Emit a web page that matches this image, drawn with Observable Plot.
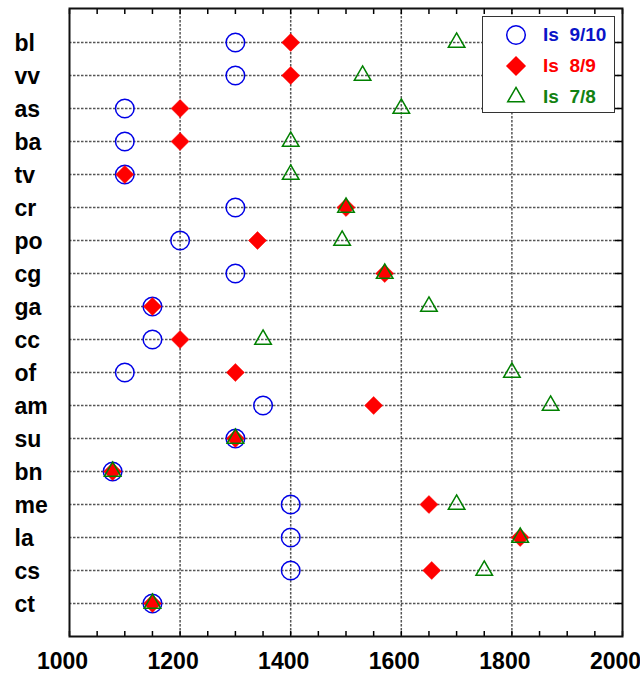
<!DOCTYPE html>
<html>
<head>
<meta charset="utf-8">
<script src="https://cdn.jsdelivr.net/npm/d3@7"></script>
<script src="https://cdn.jsdelivr.net/npm/@observablehq/plot@0.6"></script>
<style>
  html, body { margin: 0; padding: 0; background: #fff; }
  #wrap { position: relative; width: 640px; height: 673px; overflow: hidden; font-family: "Liberation Sans", Arial, sans-serif; }
  #legend { position: absolute; left: 482px; top: 16px; width: 131px; height: 95px; border: 1.5px solid #333; background: #fff; }
  .row { position: absolute; left: 0; height: 24px; }
  .row svg { position: absolute; left: 21px; top: 0; }
  .row span { position: absolute; left: 60px; white-space: pre; font-weight: bold; font-size: 19px; line-height: 24px; }
</style>
</head>
<body>
<div id="wrap"></div>
<script>
const categories = ["bl","vv","as","ba","tv","cr","po","cg","ga","cc","of","am","su","bn","me","la","cs","ct"];
const ls910 = [1300,1300,1100,1100,1100,1300,1200,1300,1150,1150,1100,1350,1300,1078,1400,1400,1400,1150];
const ls89  = [1400,1400,1200,1200,1100,1500,1340,1570,1150,1200,1300,1550,1300,1078,1650,1815,1655,1150];
const ls78  = [1700,1530,1600,1400,1400,1500,1493,1570,1650,1350,1800,1870,1300,1078,1700,1815,1750,1150];
const seriesNames = ["Is  9/10", "Is  8/9", "Is  7/8"];
const xTicks = [1000,1200,1400,1600,1800,2000];
const xMinorTicks = d3.range(1000, 2001, 50);

const BLUE = "#0000e6", RED = "#ff0000", GREEN = "#008000";

const rows = (vals) => categories.map((c, i) => ({cat: c, v: vals[i]}));
const gridStyle = {stroke: "#555", strokeOpacity: 1, strokeDasharray: "2.5,1.5", strokeWidth: 1.5};

const chart = Plot.plot({
  width: 640,
  height: 673,
  marginLeft: 69,
  marginRight: 18,
  marginTop: 8,
  marginBottom: 37,
  style: {fontFamily: "'Liberation Sans', Arial, sans-serif", fontSize: "23px", fontWeight: "bold", color: "#000", background: "#fff", overflow: "visible"},
  x: {domain: [1000, 2000], label: null},
  y: {type: "point", domain: categories, padding: 1, label: null},
  marks: [
    Plot.gridY(gridStyle),
    Plot.gridX({...gridStyle, ticks: [1200,1400,1600,1800]}),
    Plot.axisX({anchor: "top", ticks: xMinorTicks, tickSize: 5, dy: 5, tickFormat: () => "", strokeWidth: 1.5, label: null}),
    Plot.axisX({anchor: "bottom", ticks: xMinorTicks, tickSize: 5, dy: -5, tickFormat: () => "", strokeWidth: 1.5, label: null}),
    Plot.axisX({anchor: "bottom", ticks: xTicks, tickSize: 0, tickPadding: 16, dx: -7, tickFormat: d => String(d), fontSize: 23, fontWeight: "bold", label: null}),
    Plot.axisY({anchor: "right", tickSize: 8, dx: -8, tickFormat: () => "", strokeWidth: 1.5, label: null}),
    Plot.text(categories, {y: d => d, text: d => d, frameAnchor: "left", textAnchor: "start", dx: -55, dy: 1, fontSize: 23, fontWeight: "bold"}),
    Plot.frame({stroke: "#111", strokeWidth: 2}),
    Plot.dot(rows(ls910), {x: "v", y: "cat", r: 9.3, stroke: BLUE, strokeWidth: 1.5, fill: "none"}),
    Plot.dot(rows(ls89), {x: "v", y: "cat", r: 8.1, symbol: "diamond2", fill: RED, stroke: RED, strokeWidth: 0.5}),
    Plot.dot(rows(ls78), {x: "v", y: "cat", r: 7.9, symbol: "triangle2", fill: "none", stroke: GREEN, strokeWidth: 1.5})
  ]
});

const wrap = document.getElementById("wrap");
wrap.appendChild(chart);

// Legend
const legend = document.createElement("div");
legend.id = "legend";
const legendSymbols = [
  {sym: d3.symbolCircle, r: 9.3, fill: "none", stroke: BLUE, color: "#0a14c8"},
  {sym: d3.symbolDiamond2, r: 8.1, fill: RED, stroke: RED, color: RED},
  {sym: d3.symbolTriangle2, r: 7.9, fill: "none", stroke: GREEN, color: "#128212"}
];
const rowTops = [6, 37, 68];
legendSymbols.forEach((s, i) => {
  const row = document.createElement("div");
  row.className = "row";
  row.style.top = rowTops[i] + "px";
  const path = d3.symbol(s.sym, Math.PI * s.r * s.r)();
  row.innerHTML = `<svg width="24" height="24" viewBox="-12 -12 24 24" style="overflow:visible"><path d="${path}" fill="${s.fill}" stroke="${s.stroke}" stroke-width="1.5"/></svg><span style="color:${s.color}">${seriesNames[i]}</span>`;
  legend.appendChild(row);
});
wrap.appendChild(legend);
</script>
</body>
</html>
